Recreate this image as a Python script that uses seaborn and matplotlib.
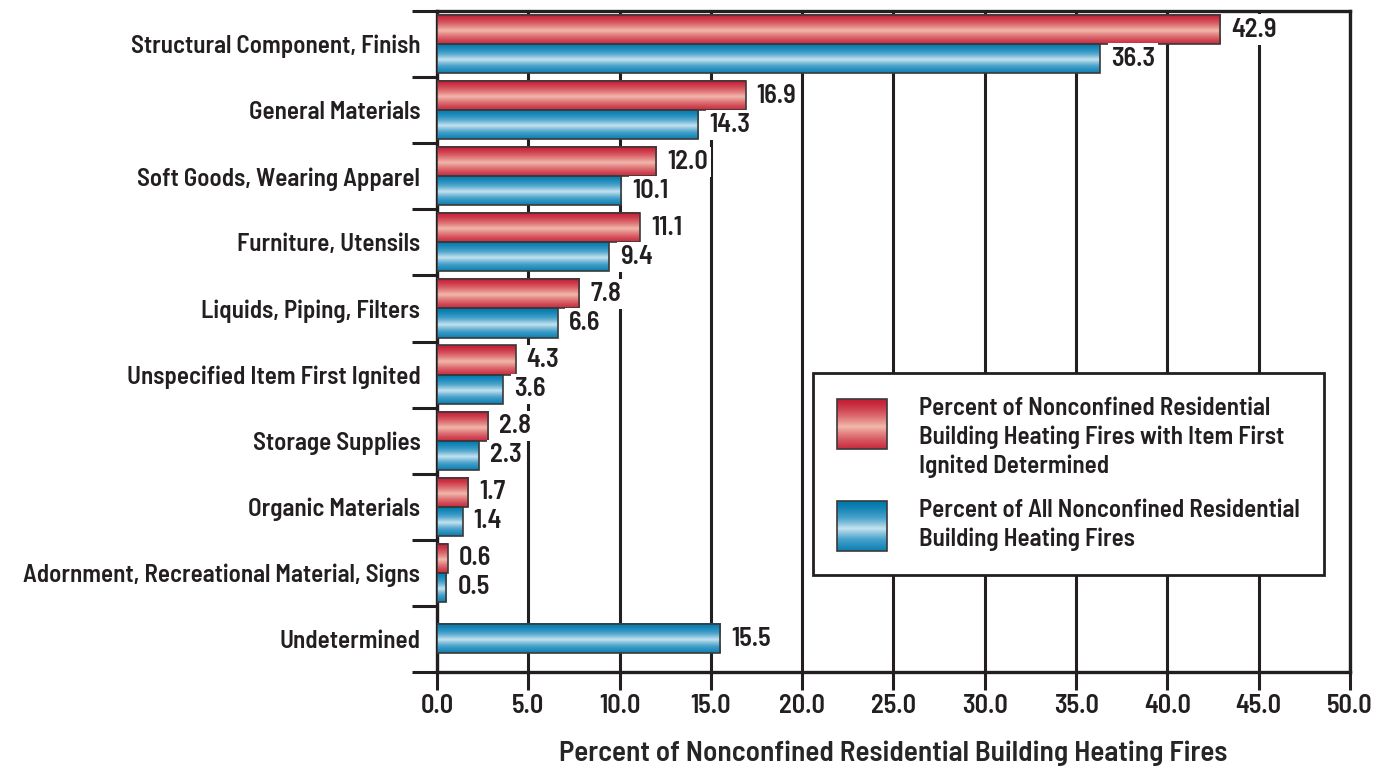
import numpy as np
import pandas as pd
import matplotlib
matplotlib.use("Agg")
import matplotlib.pyplot as plt
import seaborn as sns
from matplotlib.colors import LinearSegmentedColormap, to_hex
from matplotlib.legend_handler import HandlerBase
from matplotlib.image import BboxImage
from matplotlib.transforms import Bbox, TransformedBbox
from matplotlib.patches import Rectangle

# ---- data -------------------------------------------------------------
categories = [
    "Structural Component, Finish",
    "General Materials",
    "Soft Goods, Wearing Apparel",
    "Furniture, Utensils",
    "Liquids, Piping, Filters",
    "Unspecified Item First Ignited",
    "Storage Supplies",
    "Organic Materials",
    "Adornment, Recreational Material, Signs",
    "Undetermined",
]
pct_item_determined = [42.9, 16.9, 12.0, 11.1, 7.8, 4.3, 2.8, 1.7, 0.6]
pct_all_fires = [36.3, 14.3, 10.1, 9.4, 6.6, 3.6, 2.3, 1.4, 0.5, 15.5]
series_names = [
    "Percent of Nonconfined Residential\nBuilding Heating Fires with Item First\nIgnited Determined",
    "Percent of All Nonconfined Residential\nBuilding Heating Fires",
]
x_ticks = [0, 5, 10, 15, 20, 25, 30, 35, 40, 45, 50]
x_label = "Percent of Nonconfined Residential Building Heating Fires"

# ---- style ------------------------------------------------------------
INK = "#231f20"
RED = "#d23a46"
BLUE = "#1a86b8"
FS = 18
WEIGHT = 600
red_cmap = LinearSegmentedColormap.from_list(
    "red_tube", ["#c41e36", "#dc6a6e", "#f2b8ad"])
blue_cmap = LinearSegmentedColormap.from_list(
    "blue_tube", ["#0079ad", "#4aa3cc", "#c6e3f0"])

sns.set_theme(style="white")
plt.rcParams["font.family"] = ["Barlow Semi Condensed", "DejaVu Sans"]
plt.rcParams["font.weight"] = WEIGHT
plt.rcParams["text.color"] = INK
plt.rcParams["xtick.color"] = INK
plt.rcParams["ytick.color"] = INK

# vertical shading profile: dark edges, pale band just below the middle
t = np.linspace(0, 1, 80)
tube = np.clip(1 - np.abs(t - 0.55) / 0.55, 0, 1)[:, None] ** 1.4

fig, ax = plt.subplots(figsize=(13.9, 7.71), dpi=100)
fig.subplots_adjust(left=0.3144, right=0.9712, top=0.9857, bottom=0.1284)

# paired bars for the categories that have both series
rows = []
for cat, a, b in zip(categories[:-1], pct_item_determined, pct_all_fires[:-1]):
    rows.append({"Category": cat, "Series": series_names[0], "Percent": a})
    rows.append({"Category": cat, "Series": series_names[1], "Percent": b})
df = pd.DataFrame(rows)

sns.barplot(data=df, y="Category", x="Percent", hue="Series",
            order=categories, hue_order=series_names,
            palette=[RED, BLUE], width=0.88, orient="h", legend=False,
            saturation=1, edgecolor="#3a3a3a", linewidth=1.2, ax=ax,
            zorder=3)

# single centred bar for "Undetermined"
df_und = pd.DataFrame({"Category": [categories[-1]],
                       "Percent": [pct_all_fires[-1]]})
sns.barplot(data=df_und, y="Category", x="Percent", order=categories,
            color=BLUE, width=0.44, orient="h", saturation=1,
            edgecolor="#3a3a3a", linewidth=1.2, ax=ax, zorder=3)

ylim = ax.get_ylim()

# tube shading on each bar plus its value label
for p in list(ax.patches):
    w = p.get_width()
    if not np.isfinite(w) or w <= 0:
        continue
    x0, y0 = p.get_xy()
    h = p.get_height()
    cmap = red_cmap if to_hex(p.get_facecolor()) == to_hex(RED) else blue_cmap
    ax.imshow(tube, cmap=cmap, extent=(x0, x0 + w, y0 + h, y0),
              aspect="auto", interpolation="bicubic", zorder=3.1,
              vmin=0, vmax=1)
    p.set_facecolor("none")
    p.set_zorder(3.2)
    ax.annotate(f"{w:.1f}", xy=(x0 + w, y0 + h / 2), xytext=(8, 0),
                textcoords="offset points", ha="left", va="center",
                fontsize=FS + 1, fontweight=WEIGHT, color=INK, zorder=4,
                bbox=dict(boxstyle="square,pad=0.12", fc="white", ec="none"))

ax.set_xlim(0, 50)
ax.set_ylim(ylim)

# axes, grid, ticks
ax.set_xticks(x_ticks)
ax.set_xticklabels([f"{v:.1f}" for v in x_ticks], fontsize=FS + 1,
                   fontweight=WEIGHT)
ax.xaxis.grid(True, color=INK, linewidth=2.2)
ax.yaxis.grid(False)
ax.set_axisbelow(True)
for s in ax.spines.values():
    s.set_visible(True)
    s.set_color(INK)
    s.set_linewidth(2.4)

ax.tick_params(axis="x", which="major", direction="out", length=13,
               width=2.2, pad=3, bottom=True)
ax.set_yticks(range(len(categories)))
ax.set_yticklabels(categories, fontsize=FS, fontweight=WEIGHT)
ax.set_yticks(np.arange(-0.5, len(categories), 1.0), minor=True)
ax.tick_params(axis="y", which="major", length=0, pad=12, left=True)
ax.tick_params(axis="y", which="minor", direction="out", length=18,
               width=2.2, left=True)

ax.set_ylabel("")
ax.set_xlabel(x_label, fontsize=21, fontweight=WEIGHT, labelpad=16)


# legend with shaded swatches
class Swatch:
    def __init__(self, cmap, lift):
        self.cmap = cmap
        self.lift = lift  # vertical shift in points, to top-align with text


class SwatchHandler(HandlerBase):
    def create_artists(self, legend, orig_handle, xdescent, ydescent,
                       width, height, fontsize, trans):
        side = width
        y = -ydescent + orig_handle.lift
        bb = Bbox.from_bounds(-xdescent, y, side, side)
        img = BboxImage(TransformedBbox(bb, trans), cmap=orig_handle.cmap,
                        interpolation="bicubic", norm=plt.Normalize(0, 1))
        img.set_data(tube)
        frame = Rectangle((-xdescent, y), side, side,
                          fill=False, edgecolor="#3a3a3a", linewidth=1.2,
                          transform=trans)
        return [img, frame]


handles = [Swatch(red_cmap, 3.0), Swatch(blue_cmap, -7.5)]
leg = ax.legend(handles, series_names,
                handler_map={Swatch: SwatchHandler()},
                loc="upper left", bbox_to_anchor=(0.412, 0.452),
                prop={"size": FS, "weight": WEIGHT},
                handlelength=2.0, handleheight=1.45, handletextpad=1.3,
                labelspacing=0.85, borderpad=0.95, borderaxespad=0,
                frameon=True, fancybox=False, framealpha=1)
for txt in leg.get_texts():
    txt.set_linespacing(1.3)
leg.get_frame().set_edgecolor(INK)
leg.get_frame().set_linewidth(2.0)
leg.set_zorder(5)

fig.savefig("out.png", dpi=100)
